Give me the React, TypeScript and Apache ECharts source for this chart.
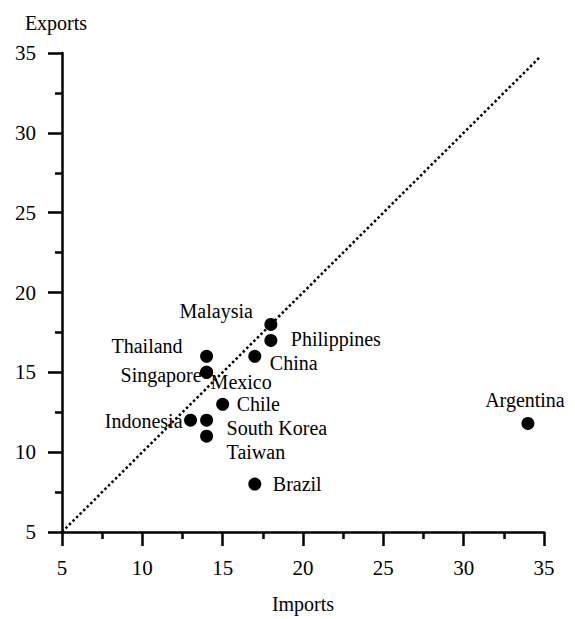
import React, { useEffect, useRef } from "react";
import * as echarts from "echarts";

// Data
const countries = [
  "Malaysia", "Philippines", "Thailand", "Singapore", "China", "Mexico",
  "Chile", "Indonesia", "South Korea", "Taiwan", "Brazil", "Argentina",
];
const imports = [18, 18, 14, 14, 17, 14, 15, 13, 14, 14, 17, 34];
const exports = [18, 17, 16, 15, 16, 15, 13, 12, 12, 11, 8, 11.8];
const axisTicks = [5, 10, 15, 20, 25, 30, 35];
const diagonal = [[5, 5], [34.7, 34.7]];

// Label layout (not data): offset of label anchor from dot centre, and anchor side
const labelLayout: Record<string, { dx: number; dy: number; align: string }> = {
  Malaysia: { dx: -18, dy: -13, align: "right" },
  Philippines: { dx: 20, dy: -1, align: "left" },
  Thailand: { dx: -24, dy: -10, align: "right" },
  Singapore: { dx: -5, dy: 3, align: "right" },
  China: { dx: 15, dy: 7, align: "left" },
  Mexico: { dx: 4, dy: 10, align: "left" },
  Chile: { dx: 14, dy: 0, align: "left" },
  Indonesia: { dx: -8, dy: 1, align: "right" },
  "South Korea": { dx: 20, dy: 8, align: "left" },
  Taiwan: { dx: 20, dy: 16, align: "left" },
  Brazil: { dx: 18, dy: 0, align: "left" },
  Argentina: { dx: -3, dy: -23, align: "center" },
};

const FONT = "'Liberation Serif', 'Times New Roman', serif";
const SYM = 13;
const LABEL_SIZE = 20;

export default function App() {
  const ref = useRef<HTMLDivElement>(null);
  useEffect(() => {
    if (!ref.current) return;
    const chart = echarts.init(ref.current, null, { renderer: "svg" });
    const points = countries.map((name, i) => {
      const l = labelLayout[name];
      return {
        name,
        value: [imports[i], exports[i]],
        label: {
          show: true,
          formatter: name,
          position: [SYM / 2 + l.dx, SYM / 2 + l.dy],
          align: l.align,
          verticalAlign: "middle",
          color: "#000",
          fontFamily: FONT,
          fontSize: LABEL_SIZE,
          lineHeight: 20,
        },
      };
    });
    const axisCommon = {
      type: "value",
      min: axisTicks[0],
      max: axisTicks[axisTicks.length - 1],
      interval: 5,
      splitLine: { show: false },
      axisLine: { show: true, lineStyle: { color: "#000", width: 2.5 } },
      axisTick: { show: true, inside: false, length: 14, lineStyle: { color: "#000", width: 2.5 } },
      minorTick: { show: true, splitNumber: 2, length: 7, lineStyle: { color: "#000", width: 2.5 } },
      minorSplitLine: { show: false },
    };
    chart.setOption({
      animation: false,
      backgroundColor: "#fff",
      textStyle: { fontFamily: FONT, color: "#000" },
      grid: { left: 62, right: 31, top: 53, bottom: 81, containLabel: false },
      xAxis: {
        ...axisCommon,
        name: "Imports",
        nameLocation: "middle",
        nameGap: 72,
        nameTextStyle: { fontFamily: FONT, fontSize: 20, color: "#000", verticalAlign: "middle" },
        axisLabel: { margin: 25, fontFamily: FONT, fontSize: 21, color: "#000" },
      },
      yAxis: {
        ...axisCommon,
        name: "Exports",
        nameLocation: "end",
        nameGap: 30,
        nameTextStyle: {
          fontFamily: FONT, fontSize: 20, color: "#000",
          align: "center", verticalAlign: "middle", padding: [0, 12, 0, 0],
        },
        axisLabel: { margin: 26, fontFamily: FONT, fontSize: 21, color: "#000" },
      },
      series: [
        {
          type: "line",
          data: diagonal,
          symbol: "none",
          silent: true,
          lineStyle: { color: "#000", width: 2.5, type: [2.5, 2.5], opacity: 1 },
          z: 1,
        },
        {
          type: "scatter",
          data: points,
          symbol: "circle",
          symbolSize: SYM,
          itemStyle: { color: "#000", opacity: 1 },
          z: 2,
        },
      ],
    });
    return () => chart.dispose();
  }, []);
  return (
    <div
      ref={ref}
      style={{ position: "fixed", left: 0, top: 0, width: 575, height: 619 }}
    />
  );
}
